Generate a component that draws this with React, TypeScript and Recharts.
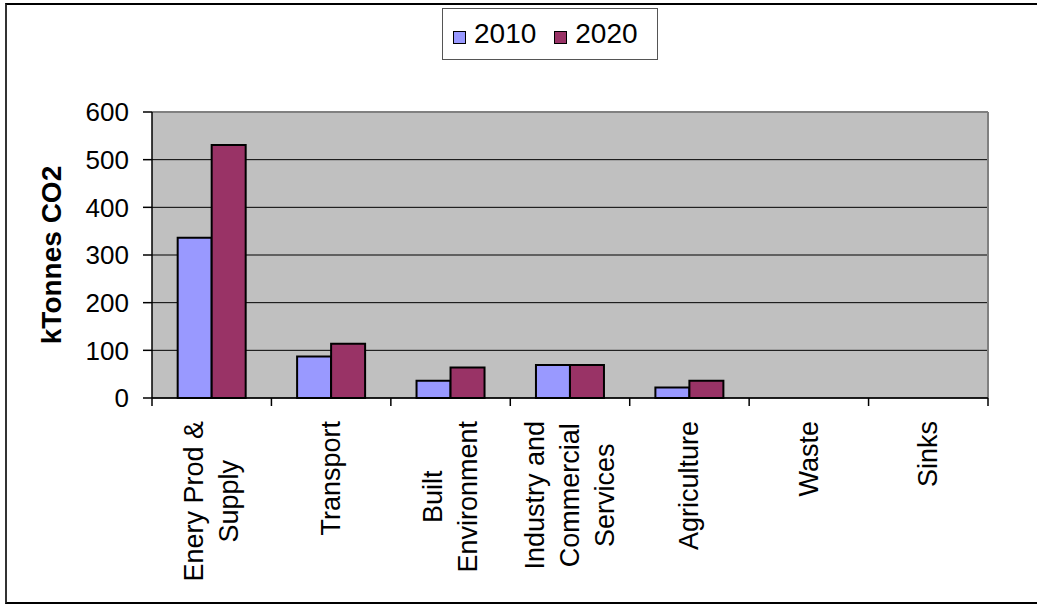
import React, { useLayoutEffect, useRef, useState } from 'react';
import { BarChart, Bar, XAxis, YAxis, CartesianGrid } from 'recharts';

const categories = [
  'Enery Prod &\nSupply',
  'Transport',
  'Built\nEnvironment',
  'Industry and\nCommercial\nServices',
  'Agriculture',
  'Waste',
  'Sinks',
];
const values2010 = [336, 87, 36, 69, 22, 0, 0];
const values2020 = [531, 114, 64, 69, 36, 0, 0];
const yTicks = [0, 100, 200, 300, 400, 500, 600];
const seriesNames = ['2010', '2020'];
const seriesColors = ['#9999FF', '#993366'];
const yAxisTitle = 'kTonnes CO2';

const data = categories.map((c, i) => ({ name: c, y2010: values2010[i], y2020: values2020[i] }));

const FONT = '"Liberation Sans", Arial, sans-serif';

function CategoryTick(props: any) {
  const { x, y, payload, index, visibleTicksCount, width } = props;
  const lines = String(payload.value).split('\n');
  const refs = useRef<any[]>([]);
  const [maxW, setMaxW] = useState(0);
  useLayoutEffect(() => {
    let m = 0;
    refs.current.forEach((el) => {
      if (el) m = Math.max(m, el.getComputedTextLength());
    });
    if (Math.abs(m - maxW) > 0.5) setMaxW(m);
  });
  const off = payload && typeof payload.offset === 'number' && payload.offset > 0
    ? payload.offset
    : width / (2 * visibleTicksCount);
  const n = lines.length;
  const lineGap = 35;
  return (
    <g>
      <line x1={x - off} x2={x - off} y1={y - 23} y2={y - 15} stroke="#000" strokeWidth={1.5} />
      {index === visibleTicksCount - 1 && (
        <line x1={x + off} x2={x + off} y1={y - 23} y2={y - 15} stroke="#000" strokeWidth={1.5} />
      )}
      <g transform={`translate(${x},${y}) rotate(-90)`}>
        {lines.map((l, i) => (
          <text
            key={i}
            ref={(el) => { refs.current[i] = el; }}
            x={-maxW / 2}
            y={(i - (n - 1) / 2) * lineGap}
            textAnchor="middle"
            dominantBaseline="central"
            fontSize={27}
            fontFamily={FONT}
            fill="#000"
          >
            {l}
          </text>
        ))}
      </g>
    </g>
  );
}

export default function App() {
  return (
    <div style={{ position: 'absolute', left: 0, top: 0, width: 1037, height: 605, background: '#fff', overflow: 'hidden' }}>
      <div
        style={{
          position: 'absolute',
          left: 5,
          top: 3,
          width: 1032,
          height: 601,
          boxSizing: 'border-box',
          borderLeft: '2px solid #333',
          borderTop: '2px solid #000',
          borderBottom: '2px solid #000',
        }}
      />
      <div style={{ position: 'absolute', left: 0, top: 0 }}>
        <BarChart
          width={1037}
          height={605}
          data={data}
          margin={{ top: 112, right: 49, bottom: 0, left: 0 }}
          barCategoryGap="21.5%"
          barGap={0}
        >
          <CartesianGrid fill="#C0C0C0" stroke="#000" vertical={false} strokeWidth={1} />
          <CartesianGrid
            fill="none"
            stroke="#808080"
            strokeWidth={2}
            horizontalCoordinatesGenerator={({ offset }: any) => [offset.top]}
            verticalCoordinatesGenerator={({ offset }: any) => [offset.left + offset.width]}
          />
          <XAxis
            dataKey="name"
            interval={0}
            height={207}
            tickSize={8}
            tickMargin={15}
            tickLine={false}
            axisLine={{ stroke: '#000', strokeWidth: 1.5 }}
            tick={<CategoryTick />}
          />
          <YAxis
            domain={[0, 600]}
            ticks={yTicks}
            width={152}
            tickSize={9}
            tickMargin={14}
            axisLine={{ stroke: '#000', strokeWidth: 1.5 }}
            tickLine={{ stroke: '#000', strokeWidth: 1.5 }}
            tick={{ fill: '#000', fontSize: 26, fontFamily: FONT }}
            label={{
              content: ({ viewBox }: any) => (
                <text
                  x={viewBox.x + 51}
                  y={viewBox.y + viewBox.height / 2}
                  transform={`rotate(-90, ${viewBox.x + 51}, ${viewBox.y + viewBox.height / 2})`}
                  textAnchor="middle"
                  dominantBaseline="central"
                  fontSize={28}
                  fontWeight="bold"
                  fontFamily={FONT}
                  fill="#000"
                >
                  {yAxisTitle}
                </text>
              ),
            }}
          />
          <Bar dataKey="y2010" name={seriesNames[0]} fill={seriesColors[0]} stroke="#000" strokeWidth={2} isAnimationActive={false} />
          <Bar dataKey="y2020" name={seriesNames[1]} fill={seriesColors[1]} stroke="#000" strokeWidth={2} isAnimationActive={false} />
        </BarChart>
      </div>
      <div
        style={{
          position: 'absolute',
          left: 442,
          top: 8,
          width: 216,
          height: 52,
          boxSizing: 'border-box',
          border: '1px solid #555',
          background: '#fff',
          display: 'flex',
          alignItems: 'center',
          justifyContent: 'flex-start',
          paddingLeft: 10,
          fontFamily: FONT,
          fontSize: 28,
          color: '#000',
        }}
      >
        {seriesNames.map((s, i) => (
          <div key={s} style={{ display: 'flex', alignItems: 'center', marginLeft: i === 0 ? 0 : 18 }}>
            <span
              style={{
                display: 'inline-block',
                width: 11,
                height: 11,
                background: seriesColors[i],
                border: '1.5px solid #000',
                marginRight: 8,
                marginTop: 6,
              }}
            />
            <span>{s}</span>
          </div>
        ))}
      </div>
    </div>
  );
}
